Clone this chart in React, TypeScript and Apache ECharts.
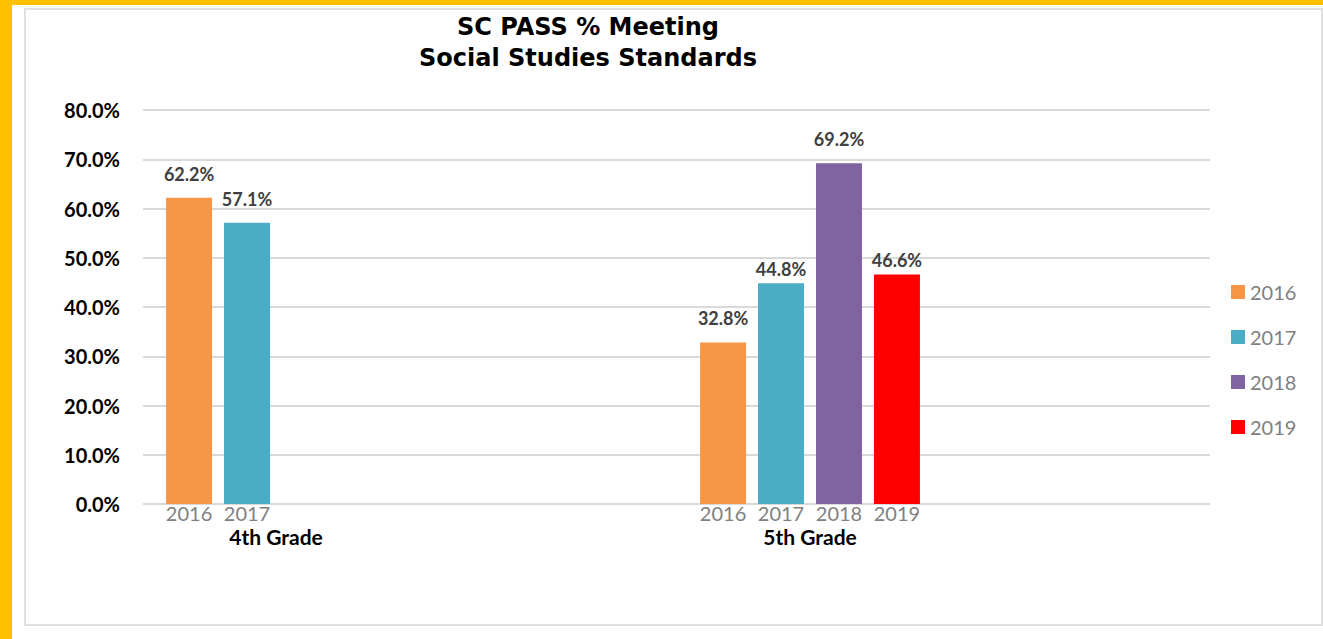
import React, { useEffect, useRef } from "react";
import * as echarts from "echarts";

const categories = ["4th Grade", "5th Grade"];
const years = ["2016", "2017", "2018", "2019"];
const values2016: (number | null)[] = [62.2, 32.8];
const values2017: (number | null)[] = [57.1, 44.8];
const values2018: (number | null)[] = [null, 69.2];
const values2019: (number | null)[] = [null, 46.6];
const seriesValues = [values2016, values2017, values2018, values2019];
// label distance above each bar (two labels sit closer in the original)
const labelDistance2016 = [15, 15];
const labelDistance2017 = [15, 5];
const labelDistance2018 = [15, 15];
const labelDistance2019 = [15, 5];
const labelDistances = [labelDistance2016, labelDistance2017, labelDistance2018, labelDistance2019];
const colors = ["#F79646", "#4BACC6", "#8064A2", "#FF0000"];
const yMin = 0;
const yMax = 80;
const yInterval = 10;
const titleLines = ["SC PASS % Meeting", "Social Studies Standards"];

const calibri = "Lato, 'Open Sans', sans-serif";

export default function App() {
  const ref = useRef<HTMLDivElement>(null);
  useEffect(() => {
    if (!ref.current) return;
    const chart = echarts.init(ref.current, null, { renderer: "svg" });
    const series: any[] = [];
    years.forEach((year, i) => {
      const vals = seriesValues[i];
      series.push({
        type: "bar",
        name: year + " axis label",
        xAxisIndex: 1,
        yAxisIndex: 1,
        stack: "s" + year,
        barWidth: 46,
        barGap: "26%",
        silent: true,
        data: vals.map((v) => (v == null ? "-" : 0)),
        itemStyle: { color: "rgba(0,0,0,0)" },
        label: {
          show: true,
          position: "bottom",
          distance: -1,
          formatter: year,
          color: "#808080",
          fontSize: 20,
          fontFamily: calibri,
          lineHeight: 20,
        },
      });
      series.push({
        type: "bar",
        name: year,
        xAxisIndex: 1,
        yAxisIndex: 1,
        stack: "s" + year,
        barWidth: 46,
        barGap: "26%",
        data: vals.map((v, j) =>
          v == null ? "-" : { value: v, label: { distance: labelDistances[i][j] } }
        ),
        itemStyle: { color: colors[i] },
        label: {
          show: true,
          position: "top",
          distance: 15,
          formatter: (p: any) => Number(p.value).toFixed(1) + "%",
          color: "#404040",
          fontSize: 18,
          fontWeight: "bold",
          fontFamily: calibri,
          lineHeight: 18,
        },
      });
    });
    chart.setOption({
      animation: false,
      color: colors,
      title: {
        text: titleLines.join("\n"),
        left: 588,
        top: 11,
        padding: 0,
        textAlign: "center",
        textStyle: {
          fontFamily: "'DejaVu Sans', sans-serif",
          fontWeight: "bold",
          fontSize: 24,
          lineHeight: 31,
          color: "#000000",
        },
      },
      legend: {
        data: years,
        orient: "vertical",
        left: 1226,
        top: 277,
        itemWidth: 14,
        itemHeight: 14,
        itemGap: 25,
        icon: "rect",
        textStyle: {
          fontSize: 20,
          color: "#808080",
          fontFamily: calibri,
          lineHeight: 20,
        },
      },
      grid: [
        { left: 143, right: 113, top: 110, bottom: 135 },
        { left: 9, right: 246, top: 110, bottom: 135 },
      ],
      xAxis: [
        {
          type: "category",
          gridIndex: 0,
          data: [""],
          show: false,
        },
        {
          type: "category",
          gridIndex: 1,
          data: categories,
          axisLine: { show: false },
          axisTick: { show: false },
          axisLabel: {
            margin: 22,
            color: "#000000",
            fontWeight: "bold",
            fontSize: 21,
            fontFamily: calibri,
            lineHeight: 20,
          },
        },
      ],
      yAxis: [
        {
          type: "value",
          gridIndex: 0,
          min: yMin,
          max: yMax,
          interval: yInterval,
          axisLine: { show: false },
          axisTick: { show: false },
          splitLine: { show: true, lineStyle: { color: "#d9d9d9", width: 2 } },
          axisLabel: {
            margin: 23,
            color: "#000000",
            fontWeight: "bold",
            fontSize: 20,
            fontFamily: calibri,
            formatter: (v: number) => v.toFixed(1) + "%",
          },
        },
        {
          type: "value",
          gridIndex: 1,
          min: yMin,
          max: yMax,
          interval: yInterval,
          show: false,
          splitLine: { show: false },
        },
      ],
      series,
    });
    return () => chart.dispose();
  }, []);

  return (
    <div
      style={{
        position: "fixed",
        left: 0,
        top: 0,
        width: 1323,
        height: 639,
        background: "#FFC000",
        overflow: "hidden",
      }}
    >
      <div
        style={{
          position: "absolute",
          left: 12,
          top: 5,
          width: 1311,
          height: 634,
          background: "#ffffff",
        }}
      />
      <div
        style={{
          position: "absolute",
          left: 24,
          top: 8,
          width: 1295,
          height: 614,
          border: "2px solid #e0e0e0",
          background: "#ffffff",
        }}
      />
      <div
        ref={ref}
        style={{ position: "absolute", left: 0, top: 0, width: 1323, height: 639 }}
      />
    </div>
  );
}
